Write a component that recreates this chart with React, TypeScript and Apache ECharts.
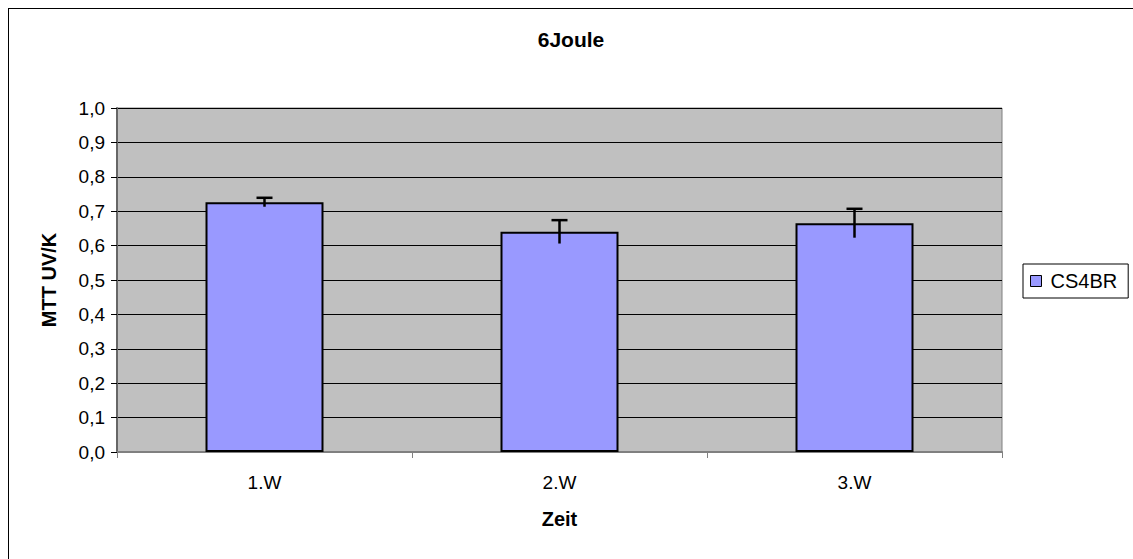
import React, { useEffect, useRef } from "react";
import * as echarts from "echarts";

const categories = ["1.W", "2.W", "3.W"];
const seriesName = "CS4BR";
const values = [0.726, 0.64, 0.665];
const errors = [0.013, 0.034, 0.042];
const yMin = 0;
const yMax = 1;
const yStep = 0.1;

const FONT = "'Liberation Sans', Arial, sans-serif";

export default function App() {
  const ref = useRef<HTMLDivElement>(null);

  useEffect(() => {
    if (!ref.current) return;
    const chart = echarts.init(ref.current, undefined, { renderer: "svg" });
    const errorData = values.map((v, i) => [i, v - errors[i], v + errors[i]]);
    chart.setOption({
      animation: false,
      textStyle: { fontFamily: FONT },
      title: {
        text: "6Joule",
        left: "center",
        top: 15,
        textStyle: { fontSize: 21, fontWeight: "bold", color: "#000", fontFamily: FONT },
      },
      legend: {
        data: [seriesName],
        left: 1014,
        top: 255,
        orient: "vertical",
        icon: "rect",
        itemWidth: 11,
        itemHeight: 11,
        padding: [7, 11, 7, 7],
        borderColor: "#000",
        borderWidth: 1,
        backgroundColor: "#fff",
        itemStyle: { borderColor: "#000", borderWidth: 1 },
        textStyle: { fontSize: 20, color: "#000", fontFamily: FONT, padding: [0, 0, 0, 4] },
      },
      grid: {
        left: 108,
        top: 99,
        width: 885,
        height: 344,
        show: true,
        backgroundColor: "#C0C0C0",
        borderColor: "#808080",
        borderWidth: 1,
      },
      xAxis: {
        type: "category",
        data: categories,
        name: "Zeit",
        nameLocation: "middle",
        nameGap: 57,
        nameTextStyle: { fontSize: 20, fontWeight: "bold", color: "#000", fontFamily: FONT },
        axisLine: { lineStyle: { color: "#808080", width: 2 } },
        axisTick: { show: true, length: 6, lineStyle: { color: "#808080" } },
        axisLabel: { fontSize: 19, color: "#000", margin: 21, fontFamily: FONT },
      },
      yAxis: {
        type: "value",
        min: yMin,
        max: yMax,
        interval: yStep,
        name: "MTT UV/K",
        nameLocation: "middle",
        nameGap: 58,
        nameRotate: 90,
        nameTextStyle: { fontSize: 20, fontWeight: "bold", color: "#000", fontFamily: FONT },
        axisLine: { show: true, lineStyle: { color: "#666", width: 2 } },
        axisTick: { show: true, length: 6, lineStyle: { color: "#000" } },
        axisLabel: {
          fontSize: 19,
          color: "#000",
          margin: 12,
          fontFamily: FONT,
          formatter: (v: number) => v.toFixed(1).replace(".", ","),
        },
        splitLine: { show: true, lineStyle: { color: "#000", width: 1 } },
      },
      series: [
        {
          type: "bar",
          name: seriesName,
          data: values,
          barWidth: "40%",
          itemStyle: { color: "#9999FF", borderColor: "#000", borderWidth: 2 },
        },
        {
          type: "custom",
          name: "error",
          data: errorData,
          z: 10,
          encode: { x: 0, y: [1, 2] },
          renderItem: (params: any, api: any) => {
            const x = api.value(0);
            const pLow = api.coord([x, api.value(1)]);
            const pHigh = api.coord([x, api.value(2)]);
            const st = { stroke: "#000", lineWidth: 2.5 };
            return {
              type: "group",
              children: [
                { type: "line", shape: { x1: pHigh[0], y1: pHigh[1], x2: pLow[0], y2: pLow[1] }, style: st },
                { type: "line", shape: { x1: pHigh[0] - 8, y1: pHigh[1], x2: pHigh[0] + 8, y2: pHigh[1] }, style: st },
              ],
            };
          },
        },
      ],
    });
    return () => chart.dispose();
  }, []);

  return (
    <div
      style={{
        position: "fixed",
        left: 8,
        top: 8,
        width: 1125,
        height: 551,
        borderTop: "1px solid #000",
        borderLeft: "1px solid #000",
        boxSizing: "border-box",
        background: "#fff",
      }}
    >
      <div ref={ref} style={{ width: 1124, height: 550 }} />
    </div>
  );
}
